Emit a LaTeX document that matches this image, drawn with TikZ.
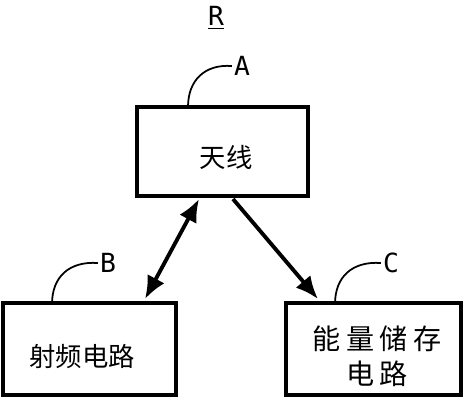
\documentclass[tikz,border=0pt]{standalone}
\usepackage{fontspec}
\setmainfont{DejaVu Sans Mono}
\newfontfamily\cjk{Noto Sans CJK SC}
\newfontfamily\cjkwide[LetterSpace=20]{Noto Sans CJK SC}
\usetikzlibrary{arrows.meta}

\tikzset{
  blockbox/.style={rectangle, draw, line width=2pt, inner sep=0pt},
  boxtext/.style={inner sep=0pt, font=\cjk\fontsize{15}{21}\selectfont, align=center},
  reflabel/.style={font=\fontsize{15}{17}\selectfont, inner sep=1pt},
  leader/.style={line width=1pt},
  linkarrow/.style={line width=2.2pt, -{Latex[length=13pt,width=11pt]}},
  linkboth/.style={line width=2.2pt, {Latex[length=13pt,width=11pt]}-{Latex[length=13pt,width=11pt]}}
}

\begin{document}
\begin{tikzpicture}[x=0.02cm, y=-0.02cm]
  \useasboundingbox (0,0) rectangle (464,400);

  % title
  \node[reflabel] (title) at (216, 18) {\underline{R}};

  % blocks
  \node[blockbox, minimum width=3.42cm, minimum height=1.78cm] (antenna) at (222.5, 151.5) {};
  \node[blockbox, minimum width=3.46cm, minimum height=1.84cm] (rf) at (89.5, 349) {};
  \node[blockbox, minimum width=3.5cm, minimum height=1.84cm] (store) at (373.5, 349) {};

  % block texts
  \node[boxtext] (antennatext) at (226, 157) {天线};
  \node[boxtext] (rftext) at (82, 357) {射频电路};
  \node[boxtext, font=\cjkwide\fontsize{16}{20}\selectfont] (storetext) at (377, 356) {能量储存\\电路};

  % reference letters
  \node[reflabel] (labA) at (242, 66) {A};
  \node[reflabel] (labB) at (108, 263) {B};
  \node[reflabel] (labC) at (391, 263) {C};

  \coordinate (footA) at (188, 107);
  \coordinate (footB) at (52, 304);
  \coordinate (footC) at (335, 304);

  % leaders
  \draw[leader] (footA) .. controls (188, 80) and (205, 64) .. (labA.west);
  \draw[leader] (footB) .. controls (52, 277) and (69, 261) .. (labB.west);
  \draw[leader] (footC) .. controls (335, 277) and (352, 261) .. (labC.west);

  % links
  \coordinate (startB) at (199, 199);
  \coordinate (endB) at (145, 299);
  \coordinate (startC) at (233, 199);
  \coordinate (endC) at (318, 299);
  \draw[linkboth] (startB) -- (endB);
  \draw[linkarrow] (startC) -- (endC);
\end{tikzpicture}
\end{document}
